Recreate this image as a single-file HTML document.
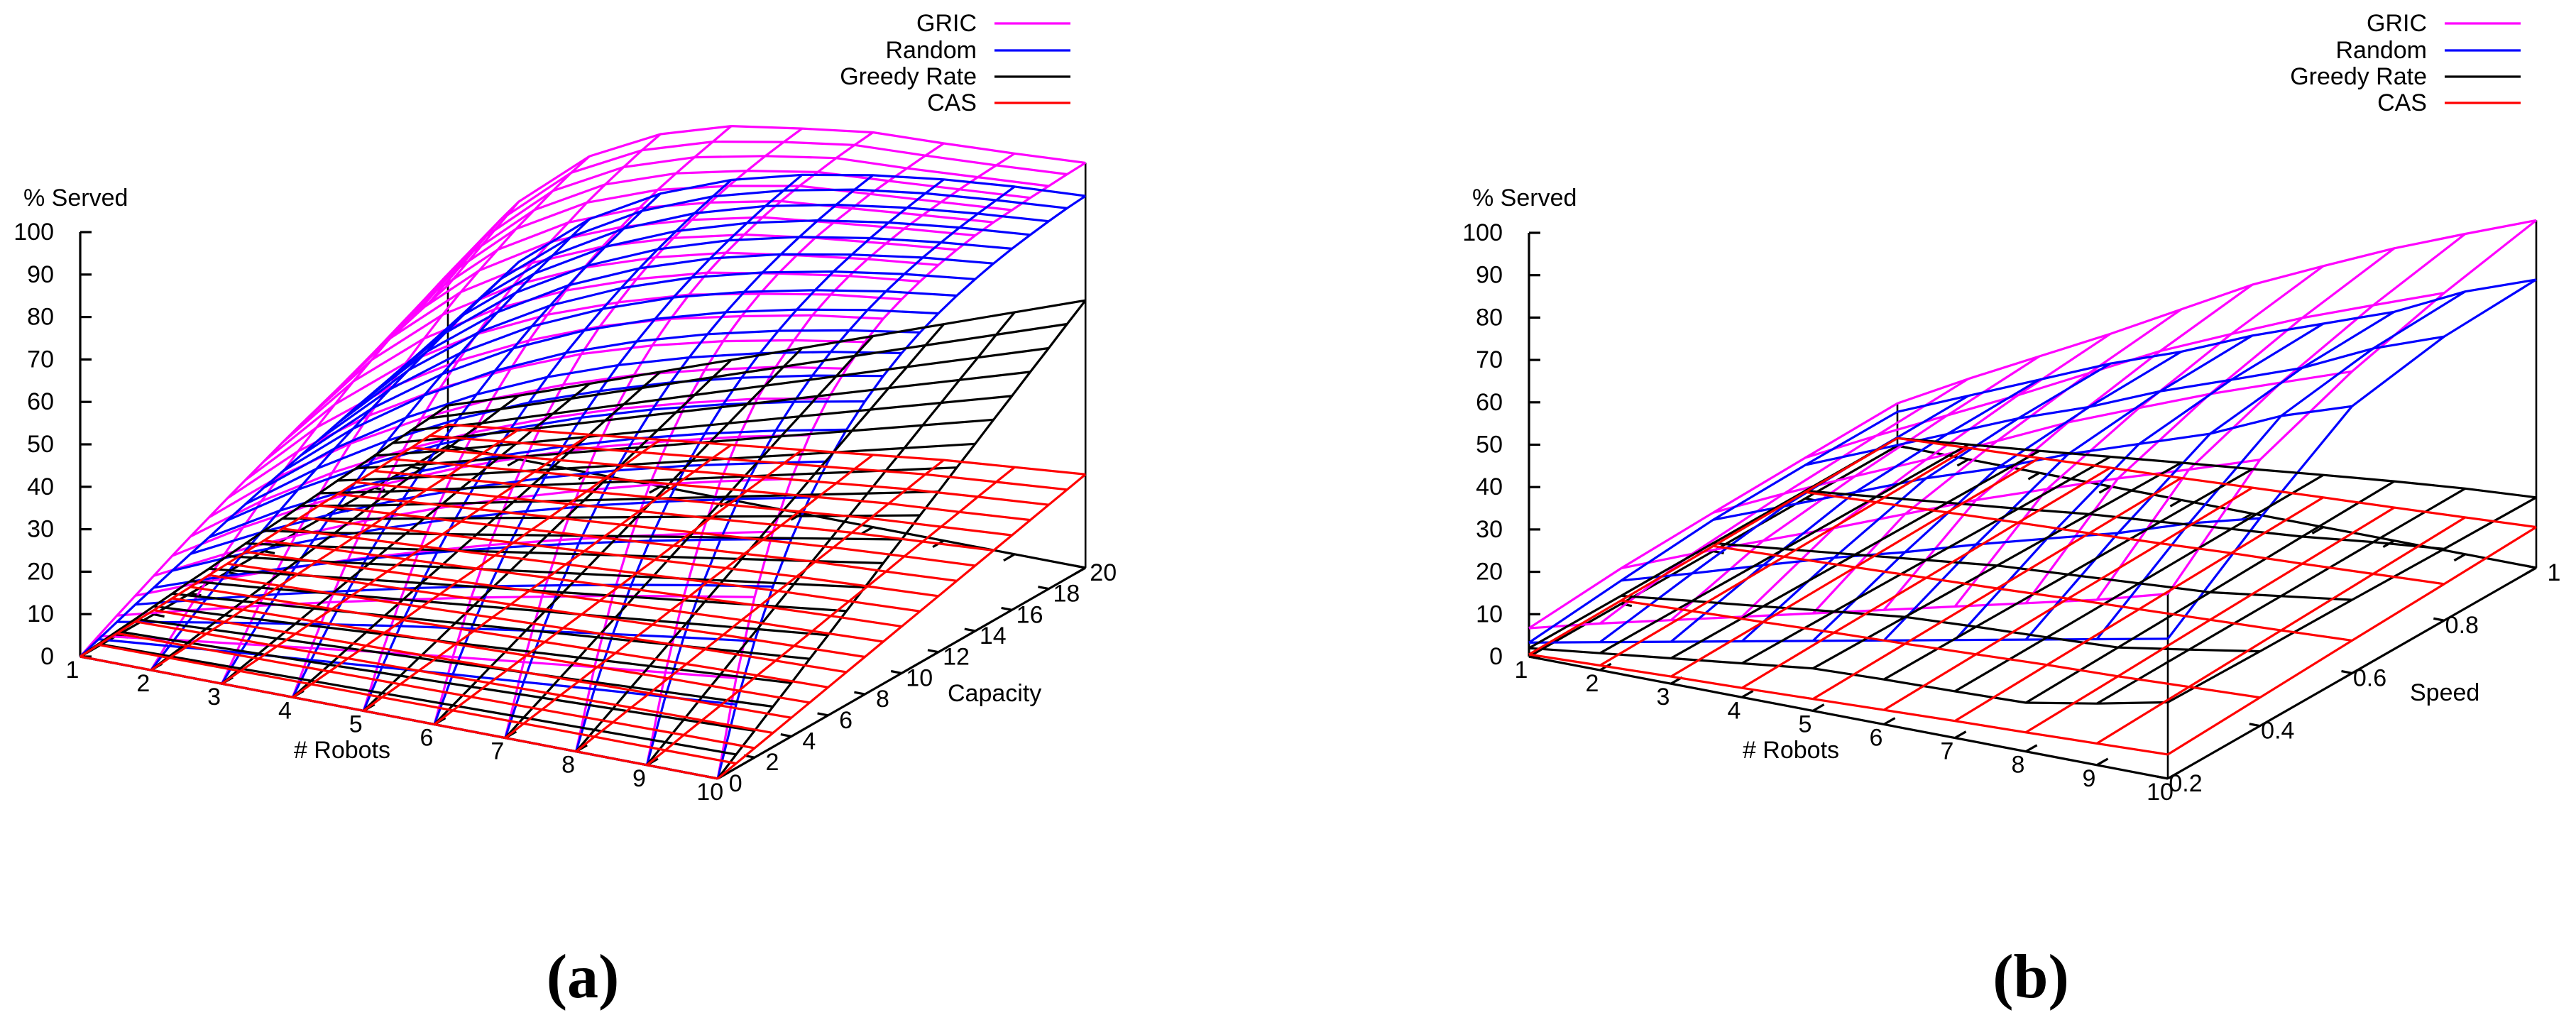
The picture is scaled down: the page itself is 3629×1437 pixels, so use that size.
<!DOCTYPE html>
<html><head><meta charset="utf-8"><title>% Served surfaces</title>
<style>
html,body{margin:0;padding:0;background:#fff;}
svg{display:block;}
text{font-family:"Liberation Sans",sans-serif;fill:#000;}
.cap{font-family:"Liberation Serif",serif;font-weight:bold;}
</style></head>
<body>
<svg id="fig" xmlns="http://www.w3.org/2000/svg" width="3629" height="1437" viewBox="0 0 3629 1437">
<rect x="0" y="0" width="3629" height="1437" fill="#fff"/>
<g id="panelA"></g>
<g id="panelB"></g>
<text class="cap" x="821" y="1405" font-size="88" text-anchor="middle">(a)</text>
<text class="cap" x="2861" y="1405" font-size="88" text-anchor="middle">(b)</text>
</svg>
<script>
// ---------- data: panel (a) ----------
const robotsA = [1,2,3,4,5,6,7,8,9,10];
const capacityA = [0,1,2,3,4,5,6,7,8,9,10,11,12,13,14,15,16,17,18,19,20];
const gricA = [
[0,2.4,4.7,6.9,9.1,11.3,13.4,15.4,17.4,19.3,21.2,23.1,24.9,26.6,28.3,30.0,31.7,33.3,34.8,36.3,37.8],
[0,4.7,9.1,13.4,17.4,21.2,24.9,28.3,31.7,34.8,37.8,40.7,43.3,45.9,48.3,50.7,52.9,54.9,56.9,58.9,60.7],
[0,6.9,13.4,19.3,24.9,30.0,34.8,39.2,43.3,47.1,50.7,54.0,57.1,60.0,62.6,65.0,67.4,69.4,71.4,73.2,74.6],
[0,9.1,17.4,24.9,31.7,37.8,43.3,48.3,52.9,56.9,60.7,64.1,67.2,70.0,72.5,74.6,76.8,78.6,80.2,81.7,83.0],
[0,11.3,21.2,30.0,37.8,44.7,50.7,56.1,60.7,64.9,68.5,71.7,74.6,77.1,79.2,81.2,83.0,84.4,85.7,86.9,88.1],
[0,13.4,24.9,34.8,43.3,50.7,57.1,62.6,67.4,71.4,74.6,77.6,80.2,82.3,84.1,85.7,87.1,88.2,89.2,90.0,90.7],
[0,15.4,28.3,39.2,48.3,56.1,62.6,68.1,72.6,76.4,79.6,82.3,84.5,86.3,87.9,89.2,90.3,91.1,91.9,92.5,93.0],
[0,17.4,31.7,43.3,52.9,60.7,67.2,72.5,76.8,80.2,83.0,85.3,87.1,88.7,89.8,90.7,91.6,92.2,92.7,93.2,93.6],
[0,19.3,34.8,47.1,56.9,64.9,71.4,76.4,80.2,83.6,86.0,87.9,89.4,90.6,91.6,92.3,92.9,93.4,93.8,94.1,94.4],
[0,21.2,37.8,50.7,60.7,68.5,74.6,79.2,83.0,86.0,88.1,89.8,91.2,92.3,93.2,93.8,94.2,94.6,94.9,95.2,95.4]];
const randomA = [
[0,1.6,3.2,4.8,6.3,7.8,9.3,10.7,12.2,13.6,15.0,16.3,17.6,18.9,20.2,21.5,22.7,23.9,25.1,26.3,27.4],
[0,3.2,6.3,9.3,12.2,15.0,17.6,20.2,22.7,25.1,27.4,29.6,31.8,33.9,35.9,37.8,39.7,41.5,43.2,44.9,46.5],
[0,4.8,9.3,13.6,17.6,21.5,25.1,28.5,31.8,34.9,37.8,40.6,43.2,45.7,48.1,50.3,52.4,54.4,56.2,58.1,59.8],
[0,6.3,12.2,17.6,22.7,27.4,31.8,35.9,39.7,43.2,46.5,49.6,52.4,55.1,57.5,59.8,61.9,63.9,65.7,67.4,69.0],
[0,7.8,15.0,21.5,27.4,32.9,37.8,42.4,46.5,50.3,53.8,57.0,59.8,62.4,64.8,67.0,69.0,70.8,72.5,74.0,75.4],
[0,9.3,17.6,25.1,31.8,37.8,43.2,48.1,52.4,56.2,59.8,62.9,65.7,68.3,70.5,72.5,74.3,75.9,77.4,78.6,79.8],
[0,10.7,20.2,28.5,35.9,42.4,48.1,53.1,57.5,61.4,64.8,67.8,70.5,72.8,74.9,76.7,78.3,79.7,80.9,82.0,82.9],
[0,12.2,22.7,31.8,39.7,46.5,52.4,57.5,61.9,65.7,69.0,71.8,74.3,76.4,78.3,79.8,81.2,82.4,83.4,84.3,85.1],
[0,13.6,25.1,34.9,43.2,50.3,56.2,61.4,65.7,69.4,72.5,75.1,77.4,79.3,80.9,82.3,83.4,84.4,85.2,85.9,86.6],
[0,15.0,27.4,37.8,46.5,53.8,59.8,64.8,69.0,72.5,75.4,77.8,79.8,81.5,82.9,84.1,85.1,85.9,86.6,87.2,87.6]];
const greedyA = [
[0,0.5,1,1.4,1.9,2.4,2.9,3.3,3.8,4.3,4.8,5.2,5.7,6.2,6.7,7.1,7.6,8.1,8.6,9,9.5],
[0,0.8,1.5,2.3,3,3.8,4.5,5.3,6,6.8,7.5,8.3,9,9.8,10.5,11.3,12,12.8,13.5,14.3,15],
[0,1.1,2.1,3.2,4.2,5.3,6.3,7.4,8.4,9.5,10.5,11.6,12.6,13.7,14.7,15.8,16.8,17.9,18.9,20,21],
[0,1.4,2.7,4.1,5.4,6.8,8.1,9.5,10.8,12.2,13.5,14.9,16.2,17.6,18.9,20.3,21.6,23,24.3,25.7,27],
[0,1.7,3.3,5,6.6,8.3,9.9,11.6,13.2,14.9,16.5,18.2,19.8,21.5,23.1,24.8,26.4,28.1,29.7,31.4,33],
[0,2,3.9,5.9,7.8,9.8,11.7,13.7,15.6,17.6,19.5,21.5,23.4,25.4,27.3,29.3,31.2,33.2,35.1,37.1,39],
[0,2.3,4.5,6.8,9,11.3,13.5,15.8,18,20.3,22.5,24.8,27,29.3,31.5,33.8,36,38.3,40.5,42.8,45],
[0,2.6,5.1,7.7,10.2,12.8,15.3,17.9,20.4,23,25.5,28.1,30.6,33.2,35.7,38.3,40.8,43.4,45.9,48.5,51],
[0,2.9,5.7,8.6,11.4,14.3,17.1,20,22.8,25.7,28.5,31.4,34.2,37.1,39.9,42.8,45.6,48.5,51.3,54.2,57],
[0,3.2,6.3,9.5,12.6,15.8,18.9,22.1,25.2,28.4,31.5,34.7,37.8,41,44.1,47.3,50.4,53.6,56.7,59.9,63]];
const casA = [
[0,0.3,0.5,0.8,1,1.3,1.5,1.8,2,2.3,2.5,2.8,3,3.3,3.5,3.8,4,4.3,4.5,4.8,5],
[0,0.4,0.7,1.1,1.4,1.8,2.1,2.5,2.8,3.2,3.5,3.9,4.2,4.6,4.9,5.3,5.6,6,6.3,6.7,7],
[0,0.5,0.9,1.4,1.8,2.3,2.7,3.2,3.6,4.1,4.5,5,5.4,5.9,6.3,6.8,7.2,7.7,8.1,8.6,9],
[0,0.6,1.1,1.7,2.2,2.8,3.3,3.9,4.4,5,5.5,6.1,6.6,7.2,7.7,8.3,8.8,9.4,9.9,10.5,11],
[0,0.7,1.3,2,2.6,3.3,3.9,4.6,5.2,5.9,6.5,7.2,7.8,8.5,9.1,9.8,10.4,11.1,11.7,12.4,13],
[0,0.8,1.5,2.3,3,3.8,4.5,5.3,6,6.8,7.5,8.3,9,9.8,10.5,11.3,12,12.8,13.5,14.3,15],
[0,0.9,1.7,2.6,3.4,4.3,5.1,6,6.8,7.7,8.5,9.4,10.2,11.1,11.9,12.8,13.6,14.5,15.3,16.2,17],
[0,1,1.9,2.9,3.8,4.8,5.7,6.7,7.6,8.6,9.5,10.5,11.4,12.4,13.3,14.3,15.2,16.2,17.1,18.1,19],
[0,1,2.1,3.1,4.1,5.1,6.2,7.2,8.2,9.2,10.3,11.3,12.3,13.3,14.4,15.4,16.4,17.4,18.5,19.5,20.5],
[0,1.1,2.2,3.3,4.4,5.5,6.6,7.7,8.8,9.9,11,12.1,13.2,14.3,15.4,16.5,17.6,18.7,19.8,20.9,22]];
const capTickLabels = [0,2,4,6,8,10,12,14,16,18,20];

// ---------- data: panel (b) ----------
const robotsB = [1,2,3,4,5,6,7,8,9,10];
const speedB = [0.2,0.4,0.6,0.8,1.0];
const gricB = [
[6.7,8.4,9.1,9.6,10],[11,15,16.8,18,19],[15,21.3,24.1,26,27.5],[19,27.5,31.2,34,36],[23,34,38.8,42.4,45],
[27,40.5,46.4,50.8,54],[31,46.3,53,58,61.6],[35,52,59.5,65,69],[39,57.3,65.4,71.2,75.6],[43.6,62.8,71.2,77.3,82]];
const randomB = [
[3.3,5.5,7.4,7.9,8],[6.6,10.4,13.8,14.7,15],[9.9,15.5,20.3,21.6,22],[13.2,20.5,26.8,28.5,29],[16.5,25,32.4,34.4,35],
[19.8,30,38.9,41.3,42],[23.1,34.6,44.5,47.2,48],[26.4,39.1,50.1,53.2,54],[29.7,44.6,57.5,61,62],[33,49,63,67,68]];
const greedyB = [
[2,1.9,1.9,1.8,1.8],[4,3.9,3.7,3.6,3.5],[6,5.8,5.6,5.4,5.2],[8,7.8,7.5,7.2,7],[10,9.7,9.4,9.1,8.8],
[10.6,10.6,10.5,10.5,10.5],[11,11.3,11.6,12,12.3],[11.5,12.1,12.7,13.4,14],[14.5,14.8,15,15.3,15.5],[18,17.6,17.3,16.9,16.6]];
const casB = [
[0.5,0.8,1.2,1.5,1.8],[1.1,1.5,1.9,2.3,2.7],[1.7,2.1,2.6,3.1,3.5],[2.2,2.8,3.3,3.9,4.4],[2.8,3.4,4,4.6,5.2],
[3.4,4.1,4.8,5.4,6.1],[4,4.8,5.5,6.3,7],[4.5,5.3,6.2,7,7.8],[5.1,6,6.9,7.8,8.7],[5.7,6.7,7.7,8.6,9.6]];
const speedTickLabels = ["0.2","0.4","0.6","0.8","1"];
const speedTickValues = [0.2,0.4,0.6,0.8,1.0];

// ---------- shared ----------
const zTicks = [0,10,20,30,40,50,60,70,80,90,100];
const robotTickLabels = [1,2,3,4,5,6,7,8,9,10];
const seriesNames = ["GRIC","Random","Greedy Rate","CAS"];
const seriesColors = ["#ff00ff","#0000ff","#000000","#ff0000"];

const NS = "http://www.w3.org/2000/svg";
function mk(tag, attrs, parent){
  const el = document.createElementNS(NS, tag);
  for (const k in attrs) el.setAttribute(k, attrs[k]);
  parent.appendChild(el);
  return el;
}

// axis (projection) functions
const axisA = {
  X:(r,c,z)=>113 + (r-1)*99.8 + c*25.9,
  Y:(r,c,z)=>925 + (r-1)*19.1 - c*14.85 - z*5.98,
  cMin:0, cMax:20
};
const axisB = {
  X:(r,s,z)=>2154 + (r-1)*100 + (s-0.2)*648.75,
  Y:(r,s,z)=>925 + (r-1)*19.1 - (s-0.2)*371.25 - z*5.97,
  cMin:0.2, cMax:1.0
};

function drawSurface(g, ax, rows, cols, vals, color, name){
  const sg = mk('g', {}, g);
  
  
  // lines along robots (constant second variable)
  for (let j=0;j<cols.length;j++){
    let pts=[];
    for (let i=0;i<rows.length;i++) pts.push(ax.X(rows[i],cols[j],vals[i][j]).toFixed(1)+','+ax.Y(rows[i],cols[j],vals[i][j]).toFixed(1));
    const pl = mk('polyline', {points:pts.join(' '), fill:'none', stroke:color, 'stroke-width':3.2, 'stroke-linejoin':'round'}, sg);
    
    
  }
  // lines along the second variable (constant robots)
  for (let i=0;i<rows.length;i++){
    let pts=[];
    for (let j=0;j<cols.length;j++) pts.push(ax.X(rows[i],cols[j],vals[i][j]).toFixed(1)+','+ax.Y(rows[i],cols[j],vals[i][j]).toFixed(1));
    const pl = mk('polyline', {points:pts.join(' '), fill:'none', stroke:color, 'stroke-width':3.2, 'stroke-linejoin':'round'}, sg);
    
    
  }
}

function drawPanel(g, ax, rows, cols, surfaces, opts){
  const rMin=rows[0], rMax=rows[rows.length-1], cMin=ax.cMin, cMax=ax.cMax;
  const L = (x1,y1,x2,y2,name,w)=>{
    const l = mk('line',{x1:x1.toFixed(1),y1:y1.toFixed(1),x2:x2.toFixed(1),y2:y2.toFixed(1),stroke:'#000','stroke-width':w||3.2}, g);
    
    
    return l;
  };
  const P = (r,c,z)=>[ax.X(r,c,z), ax.Y(r,c,z)];
  // base border
  let a=P(rMin,cMin,0), b=P(rMax,cMin,0), c=P(rMax,cMax,0), d=P(rMin,cMax,0);
  L(a[0],a[1],b[0],b[1],'robots-axis-line');
  L(b[0],b[1],c[0],c[1],opts.secondName+'-axis-line');
  L(c[0],c[1],d[0],d[1],'back-border-line');
  L(d[0],d[1],a[0],a[1],'left-border-line');
  // z axis
  let zt=P(rMin,cMin,100);
  L(a[0],a[1],zt[0],zt[1],'z-axis-line');
  zTicks.forEach(v=>{
    const p=P(rMin,cMin,v);
    L(p[0],p[1],p[0]+16,p[1],'z-tick');
    const t = mk('text',{x:(p[0]-37).toFixed(1), y:(p[1]).toFixed(1), 'font-size':34, 'text-anchor':'end','dominant-baseline':'central'}, g);
    
    
    t.textContent = v;
  });
  // corner verticals to first surface
  const first = surfaces[0].vals;
  const nR=rows.length-1, nC=first[0].length-1;
  [[rMax,cMax,first[nR][nC]],[rMin,cMax,first[0][nC]],[rMax,cMin,first[nR][0]]].forEach(q=>{
    const p0=P(q[0],q[1],0), p1=P(q[0],q[1],q[2]);
    L(p0[0],p0[1],p1[0],p1[1],'corner-vertical-line',2.6);
  });
  // robot ticks + labels
  const dc = (cMax-cMin)*0.03;
  robotTickLabels.forEach(v=>{
    const p=P(v,cMin,0), q=P(v,cMin+dc,0);
    L(p[0],p[1],q[0],q[1],'robots-tick');
    const pb=P(v,cMax,0), qb=P(v,cMax-dc,0);
    L(pb[0],pb[1],qb[0],qb[1],'robots-mirror-tick');
    const t = mk('text',{x:(p[0]-11).toFixed(1), y:(p[1]+19).toFixed(1), 'font-size':34, 'text-anchor':'middle','dominant-baseline':'central'}, g);
    
    
    t.textContent = v;
  });
  // second-axis ticks + labels
  opts.secondTicks.forEach((v,i)=>{
    const p=P(rMax,v,0), q=P(rMax-0.15,v,0);
    L(p[0],p[1],q[0],q[1],opts.secondName+'-tick');
    const pb=P(rMin,v,0), qb=P(rMin+0.15,v,0);
    L(pb[0],pb[1],qb[0],qb[1],opts.secondName+'-mirror-tick');
    const t = mk('text',{x:(p[0]+25).toFixed(1), y:(p[1]+7).toFixed(1), 'font-size':34, 'text-anchor':'middle','dominant-baseline':'central'}, g);
    
    
    t.textContent = opts.secondLabels[i];
  });
  // surfaces
  surfaces.forEach((s,k)=>drawSurface(g, ax, rows, cols, s.vals, seriesColors[k], s.name));
  // axis titles
  const ox = a[0];
  let t = mk('text',{x:ox-80, y:279, 'font-size':34,'dominant-baseline':'central'}, g);
   
  t.textContent = '% Served';
  t = mk('text',{x:ox+369, y:1057, 'font-size':34,'text-anchor':'middle','dominant-baseline':'central'}, g);
   
  t.textContent = '# Robots';
  t = mk('text',{x:opts.secondTitleX, y:opts.secondTitleY, 'font-size':34,'dominant-baseline':'central'}, g);
   
  t.textContent = opts.secondTitle;
  // legend
  const lg = mk('g',{},g);
   
  const ly=[33,71,108,145];
  seriesNames.forEach((n,k)=>{
    const e = mk('g',{},lg);
     
    const tt = mk('text',{x:opts.legendX, y:ly[k], 'font-size':34,'text-anchor':'end','dominant-baseline':'central'}, e);
     
    tt.textContent = n;
    const ln = mk('line',{x1:opts.legendX+25,y1:ly[k],x2:opts.legendX+132,y2:ly[k],stroke:seriesColors[k],'stroke-width':3.2}, e);
     
  });
}

drawPanel(document.getElementById('panelA'), axisA, robotsA, capacityA,
  [{name:'gric-surface',vals:gricA},{name:'random-surface',vals:randomA},{name:'greedy-rate-surface',vals:greedyA},{name:'cas-surface',vals:casA}],
  {secondName:'capacity', secondTicks:capTickLabels, secondLabels:capTickLabels, secondTitle:'Capacity', secondTitleX:1335, secondTitleY:977, legendX:1376});
drawPanel(document.getElementById('panelB'), axisB, robotsB, speedB,
  [{name:'gric-surface',vals:gricB},{name:'random-surface',vals:randomB},{name:'greedy-rate-surface',vals:greedyB},{name:'cas-surface',vals:casB}],
  {secondName:'speed', secondTicks:speedTickValues, secondLabels:speedTickLabels, secondTitle:'Speed', secondTitleX:3395, secondTitleY:976, legendX:3419});
</script>
</body></html>
